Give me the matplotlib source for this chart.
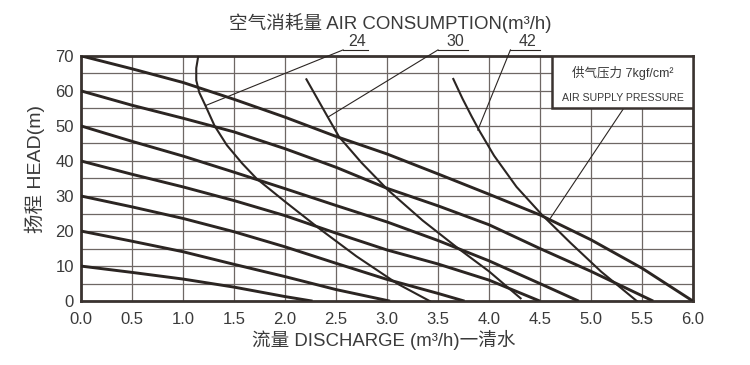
import matplotlib
matplotlib.use("Agg")
import matplotlib.pyplot as plt
from matplotlib.patches import Rectangle

plt.rcParams['font.family'] = ['Liberation Sans', 'Noto Sans CJK SC', 'DejaVu Sans']

# pump curves at each air pressure: flow (m3/h) vs head (m)
p70_q = [0, 0.5, 1.0, 1.5, 2.0, 2.5, 3.0, 3.5, 4.0, 4.5, 5.0, 5.5, 6.0]
p70_h = [70, 66.3, 62.4, 57.6, 52.5, 47, 42, 36.3, 30.5, 24.6, 17.5, 9.4, 0]
p60_q = [0, 0.5, 1.0, 1.5, 2.0, 2.5, 3.0, 3.5, 4.0, 4.5, 5.0, 5.61]
p60_h = [60, 55.9, 52.2, 48.3, 43.5, 38.2, 32.2, 27.2, 21.8, 15.0, 8.5, 0]
p50_q = [0, 0.5, 1.0, 1.5, 2.0, 2.5, 3.0, 3.5, 4.0, 4.5, 4.88]
p50_h = [50, 45.6, 41.4, 36.8, 32.1, 27.3, 22.6, 17.3, 11.5, 5.0, 0]
p40_q = [0, 0.5, 1.0, 1.5, 2.0, 2.5, 3.0, 3.5, 4.0, 4.5]
p40_h = [40, 36.2, 32.6, 28.7, 24.4, 19.4, 14.6, 10.6, 6.0, 0]
p30_q = [0, 0.5, 1.0, 1.5, 2.0, 2.5, 3.0, 3.5, 3.76]
p30_h = [30, 26.9, 23.6, 19.8, 15.5, 10.8, 6.2, 2.2, 0]
p20_q = [0, 0.5, 1.0, 1.5, 2.0, 2.5, 3.03]
p20_h = [20, 17.1, 14.1, 10.5, 7.0, 3.3, 0]
p10_q = [0, 0.5, 1.0, 1.5, 2.0, 2.27]
p10_h = [10, 8.2, 6.3, 4.0, 1.3, 0]

pump_curves = [(p70_q, p70_h), (p60_q, p60_h), (p50_q, p50_h), (p40_q, p40_h),
               (p30_q, p30_h), (p20_q, p20_h), (p10_q, p10_h)]

# air consumption curves (m3/h)
air24_q = [1.15, 1.13, 1.13, 1.16, 1.22, 1.31, 1.43, 1.58, 1.72, 2.0, 2.35, 2.7, 3.1, 3.42]
air24_h = [70, 66.5, 63, 59.5, 55.8, 50, 44.5, 39.3, 35, 28.4, 20.4, 12.8, 5.0, 0]
air30_q = [2.21, 2.42, 2.53, 2.75, 3.01, 3.35, 3.7, 4.0, 4.31]
air30_h = [63.3, 52.5, 46.9, 39.5, 31.7, 23, 15, 8.5, 0.8]
air42_q = [3.65, 3.74, 3.83, 3.91, 4.05, 4.27, 4.52, 4.8, 5.1, 5.45]
air42_h = [63.4, 57.8, 52.7, 48.4, 41.5, 32.6, 24.6, 16.6, 8.4, 0]

air_labels = ['24', '30', '42']
air_curves = [(air24_q, air24_h), (air30_q, air30_h), (air42_q, air42_h)]
# label underline start/end and the point on the curve the leader points at
label_x0 = [2.57, 3.50, 4.21]
label_x1 = [2.81, 3.79, 4.50]
label_tip = [(1.22, 55.8), (2.42, 52.5), (3.89, 48.8)]

ink = '#2b2522'
grid_c = '#6e6764'
text_c = '#3a3a3a'

fig = plt.figure(figsize=(7.5, 3.65), dpi=100)
ax = fig.add_axes([0.108, 0.175, 0.816, 0.672])

ax.set_xlim(0, 6)
ax.set_ylim(0, 70)
ax.set_xticks([i * 0.5 for i in range(13)])
ax.set_xticklabels(['%.1f' % (i * 0.5) for i in range(13)])
ax.set_yticks(range(0, 71, 10))
ax.set_yticks(range(5, 70, 10), minor=True)
ax.tick_params(axis='both', which='both', length=0, labelsize=12, colors=text_c)
ax.tick_params(axis='x', pad=8)
ax.tick_params(axis='y', pad=5)
ax.grid(True, which='both', color=grid_c, lw=0.9)
ax.set_axisbelow(True)
for s in ax.spines.values():
    s.set_color('#3a3330')
    s.set_linewidth(2)

for q, h in pump_curves:
    ax.plot(q, h, color=ink, lw=2.1, solid_capstyle='butt', zorder=3)

for (q, h), lab, x0, x1, tip in zip(air_curves, air_labels, label_x0, label_x1, label_tip):
    ax.plot(q, h, color=ink, lw=1.5, zorder=3)
    ax.plot([x0, x1], [71.7, 71.7], color=ink, lw=0.8, clip_on=False)
    ax.plot([x0, tip[0]], [71.7, tip[1]], color=ink, lw=0.8, clip_on=False, zorder=4)
    ax.text((x0 + x1) / 2 + 0.02, 71.9, lab, ha='center', va='bottom', fontsize=11.5,
            color=text_c, clip_on=False)

# air supply pressure box
box = Rectangle((4.62, 55), 1.38, 15, facecolor='white', edgecolor='#3a3330', lw=1.8, zorder=5)
ax.add_patch(box)
ax.text(5.31, 65.0, '供气压力 7kgf/cm²', ha='center', va='center', fontsize=9,
        color=text_c, zorder=6)
ax.text(5.31, 58.0, 'AIR SUPPLY PRESSURE', ha='center', va='center', fontsize=7.6,
        color=text_c, zorder=6)
ax.plot([5.32, 4.6], [55, 23.6], color=ink, lw=0.8, zorder=4)

fig.text(0.52, 0.938, '空气消耗量 AIR CONSUMPTION(m³/h)', ha='center', va='center',
         fontsize=13.4, color=text_c)
fig.text(0.512, 0.068, '流量 DISCHARGE (m³/h)一清水', ha='center', va='center',
         fontsize=13.4, color=text_c)
fig.text(0.046, 0.537, '扬程 HEAD(m)', ha='center', va='center', rotation=90,
         fontsize=14, color=text_c)

fig.savefig('out.png', dpi=100, facecolor='white')
